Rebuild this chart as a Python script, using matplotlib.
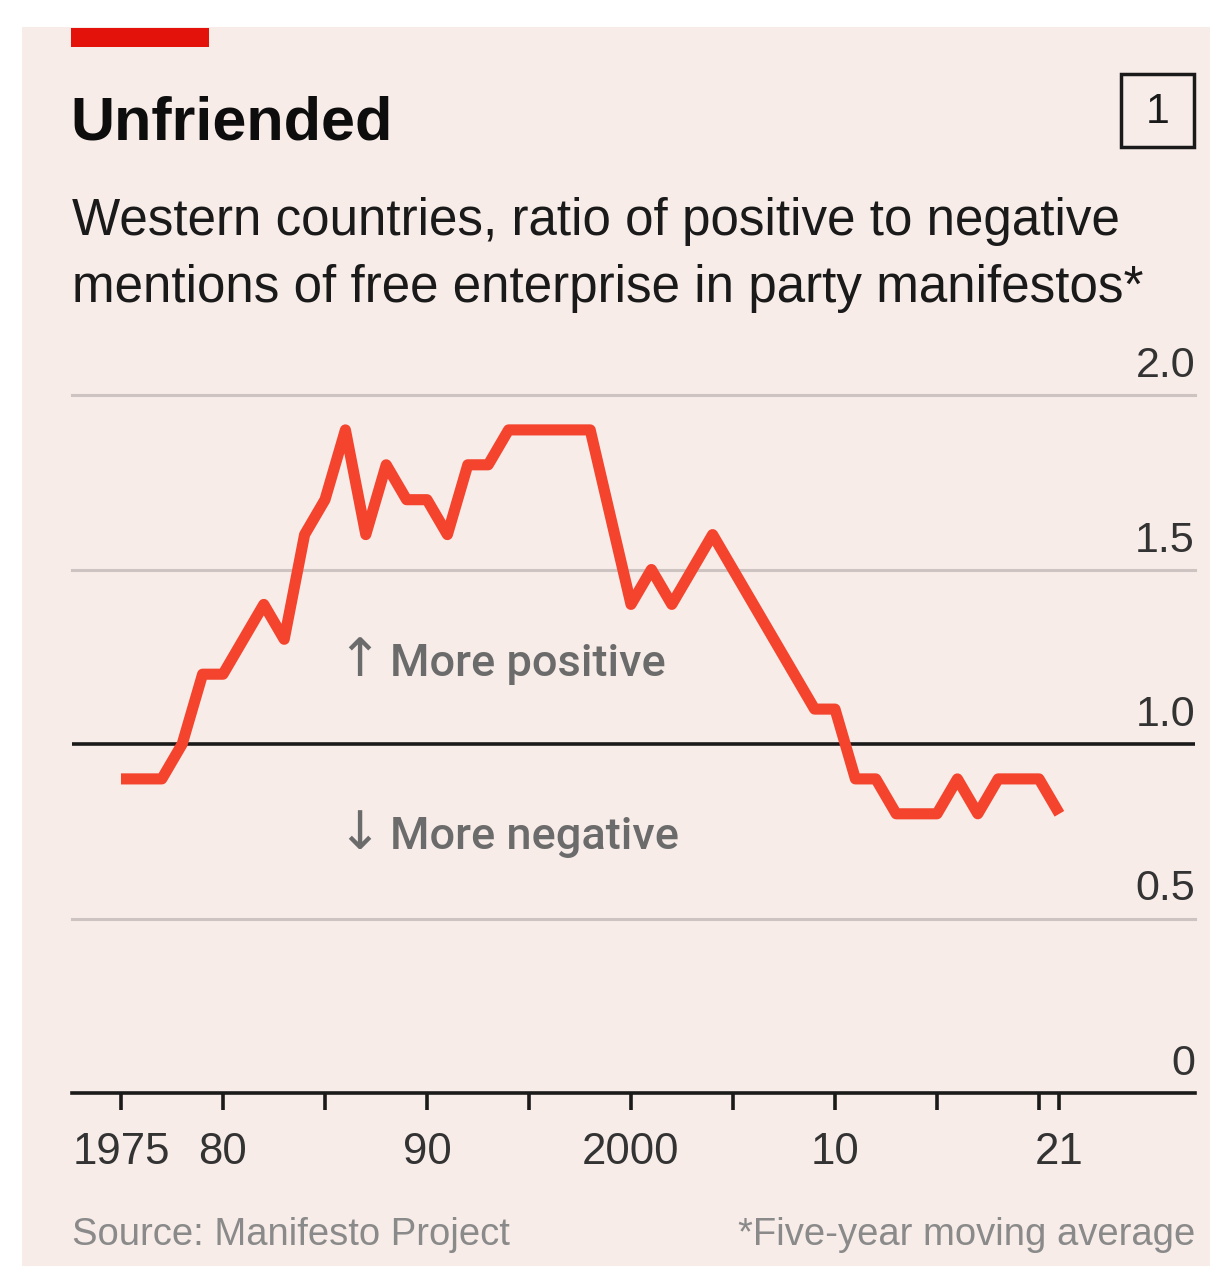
import matplotlib
matplotlib.use('Agg')
import matplotlib.pyplot as plt
from matplotlib.patches import Rectangle

# Data: five-year moving average, ratio of positive to negative mentions
years = list(range(1975, 2022))
ratio = [0.9, 0.9, 0.9, 1.0, 1.2, 1.2, 1.3, 1.4, 1.3, 1.6,
         1.7, 1.9, 1.6, 1.8, 1.7, 1.7, 1.6, 1.8, 1.8, 1.9,
         1.9, 1.9, 1.9, 1.9, 1.65, 1.4, 1.5, 1.4, 1.5, 1.6,
         1.5, 1.4, 1.3, 1.2, 1.1, 1.1, 0.9, 0.9, 0.8, 0.8,
         0.8, 0.9, 0.8, 0.9, 0.9, 0.9, 0.8]
x_ticks = [1975, 1980, 1985, 1990, 1995, 2000, 2005, 2010, 2015, 2020, 2021]
x_labels = {1975: '1975', 1980: '80', 1990: '90', 2000: '2000', 2010: '10', 2021: '21'}
y_grid = [0.5, 1.5, 2.0]
y_labels = [0, 0.5, 1.0, 1.5, 2.0]

W, H = 1210, 1266
BG = '#f7ece8'
RED = '#f4442e'
SANS = ['Liberation Sans', 'DejaVu Sans']
MED = ['Roboto', 'DejaVu Sans']

fig = plt.figure(figsize=(W / 100, H / 100), dpi=100)
fig.patch.set_facecolor('white')


def fx(px):
    return px / W


def fy(py):
    return 1 - py / H


# card background
fig.patches.append(Rectangle((fx(22), 0), 1 - fx(22), fy(27), transform=fig.transFigure,
                             facecolor=BG, edgecolor='none', zorder=-10))
# red tag
fig.patches.append(Rectangle((fx(71), fy(47)), fx(209) - fx(71), fy(28) - fy(47),
                             transform=fig.transFigure, facecolor='#e3120b',
                             edgecolor='none', zorder=1))
# chart number box
fig.patches.append(Rectangle((fx(1121), fy(147)), fx(1194) - fx(1121), fy(74) - fy(147),
                             transform=fig.transFigure, facecolor='none',
                             edgecolor='#1a1a1a', lw=2.5, zorder=1))
fig.text(fx(1158), fy(112), '1', ha='center', va='center', fontsize=31,
         family=SANS, color='#1a1a1a')

fig.text(fx(70), fy(140), 'Unfriended', ha='left', va='baseline', fontsize=44,
         fontweight='bold', family=SANS, color='#0d0d0d')
fig.text(fx(72), fy(235), 'Western countries, ratio of positive to negative',
         ha='left', va='baseline', fontsize=36.8, family=SANS, color='#1a1a1a')
fig.text(fx(72), fy(302), 'mentions of free enterprise in party manifestos*',
         ha='left', va='baseline', fontsize=36.8, family=SANS, color='#1a1a1a')

# axes: y=0 at px 1093, y=2.0 at px 395; x from px 72 to 1195
ax = fig.add_axes([fx(72), fy(1093), fx(1195) - fx(72), fy(395) - fy(1093)])
ax.set_facecolor('none')
ax.set_ylim(0, 2.0)
ax.set_xlim(1975 - 49 / 20.4, 1975 + 1074 / 20.4)
for s in ax.spines.values():
    s.set_visible(False)
ax.set_yticks([])

for v in y_grid:
    ax.axhline(v, color='#cdc4c2', lw=2.2, zorder=1, clip_on=False)
ax.axhline(1.0, color='#1a1a1a', lw=2.6, zorder=2)
ax.axhline(0, color='#1a1a1a', lw=2.6, zorder=2, clip_on=False)

for v in y_labels:
    lab = '0' if v == 0 else f'{v:.1f}'
    ax.annotate(lab, xy=(1, v), xycoords=('axes fraction', 'data'),
                xytext=(0, 9), textcoords='offset pixels', ha='right', va='bottom',
                fontsize=31, family=SANS, color='#333333')

ax.plot(years, ratio, color=RED, lw=8, solid_joinstyle='round',
        solid_capstyle='butt', zorder=3, clip_on=False)

ax.set_xticks(x_ticks)
ax.set_xticklabels([x_labels.get(t, '') for t in x_ticks])
ax.tick_params(axis='x', length=12, width=2.6, color='#1a1a1a', pad=16,
               labelsize=31.5, labelcolor='#333333')
for lbl in ax.get_xticklabels():
    lbl.set_family(SANS)

# direction notes
ax.text(1985.6, 1.195, '\u2191', ha='left', va='baseline', fontsize=38,
        family=['DejaVu Sans'], color='#6b6b6b')
ax.text(1988.2, 1.195, 'More positive', ha='left', va='baseline', fontsize=32.5,
        family=MED, color='#6b6b6b', fontweight='medium')
ax.text(1985.6, 0.70, '\u2193', ha='left', va='baseline', fontsize=38,
        family=['DejaVu Sans'], color='#6b6b6b')
ax.text(1988.2, 0.70, 'More negative', ha='left', va='baseline', fontsize=32.5,
        family=MED, color='#6b6b6b', fontweight='medium')

fig.text(fx(72), fy(1245), 'Source: Manifesto Project', ha='left', va='baseline',
         fontsize=27.5, family=SANS, color='#8a8a8a')
fig.text(fx(1195), fy(1245), '*Five-year moving average', ha='right', va='baseline',
         fontsize=27.5, family=SANS, color='#8a8a8a')

fig.savefig('out.png', dpi=100, facecolor=fig.get_facecolor())
